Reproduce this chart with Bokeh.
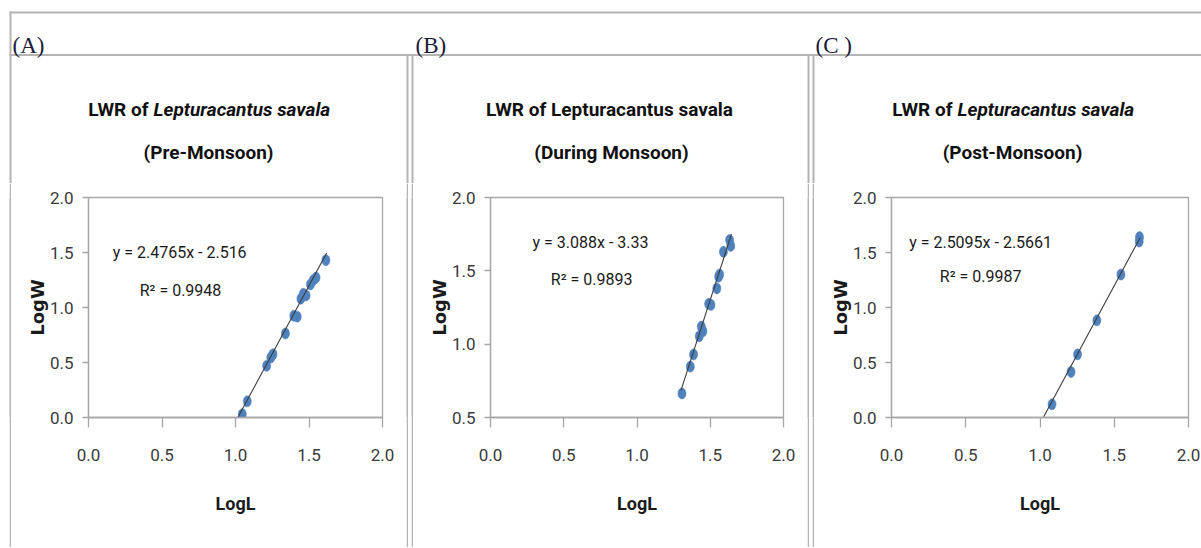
from bokeh.plotting import figure
from bokeh.layouts import row, column, Spacer
from bokeh.models import Range1d, FixedTicker, NumeralTickFormatter, Label
from bokeh.core.properties import value
from bokeh.embed import file_html
from bokeh.resources import INLINE

# ---------------- data ----------------
PANEL_TAGS = ["(A)", "(B)", "(C )"]
SEASONS = ["(Pre-Monsoon)", "(During Monsoon)", "(Post-Monsoon)"]
TITLE_PREFIX = "LWR of"
SPECIES = "Lepturacantus savala"
ITALIC_SPECIES = [True, False, True]

A_LOGL = [1.046, 1.080, 1.212, 1.240, 1.255, 1.340, 1.397, 1.420, 1.445, 1.462, 1.480, 1.510, 1.530, 1.548, 1.615]
A_LOGW = [0.030, 0.147, 0.470, 0.545, 0.575, 0.764, 0.925, 0.917, 1.080, 1.125, 1.110, 1.210, 1.250, 1.272, 1.430]

B_LOGL = [1.307, 1.364, 1.386, 1.425, 1.439, 1.450, 1.489, 1.505, 1.545, 1.557, 1.564, 1.590, 1.632, 1.640]
B_LOGW = [0.664, 0.847, 0.930, 1.054, 1.120, 1.088, 1.275, 1.268, 1.380, 1.460, 1.475, 1.630, 1.710, 1.670]

C_LOGL = [1.081, 1.209, 1.253, 1.383, 1.545, 1.668, 1.670]
C_LOGW = [0.120, 0.414, 0.574, 0.883, 1.300, 1.600, 1.640]

SLOPES = [2.4765, 3.088, 2.5095]
INTERCEPTS = [-2.516, -3.33, -2.5661]
EQ_TEXT = ["y = 2.4765x - 2.516", "y = 3.088x - 3.33", "y = 2.5095x - 2.5661"]
R2_TEXT = ["R\u00b2 = 0.9948", "R\u00b2 = 0.9893", "R\u00b2 = 0.9987"]
TREND_X = [[1.016, 1.62], [1.30, 1.645], [1.025, 1.675]]

X_TICKS = [0.0, 0.5, 1.0, 1.5, 2.0]
Y_TICKS = [[0.0, 0.5, 1.0, 1.5, 2.0], [0.5, 1.0, 1.5, 2.0], [0.0, 0.5, 1.0, 1.5, 2.0]]
Y_RANGES = [(0.0, 2.0), (0.5, 2.0), (0.0, 2.0)]
X_RANGE = (0.0, 2.0)

# ---------------- styling / layout ----------------
SANS = "Roboto"
GRAY = "#a6a6a6"
TABLE = "#b4b4b4"
BLUE = "#4F81BD"
TOTAL_W = 1201
HEAD_H = 183
BODY_H = 364
CHART_W = [395, 394, 387]
MB_LEFT = [77, 77, 77]
MB_RIGHT = [24, 24, 13]
MB_TOP = 14
MB_BOTTOM = 130
EQ_POS = [(0.62, 1.50), (0.683, 1.69), (0.60, 1.595)]
R2_POS = [(0.626, 1.156), (0.69, 1.44), (0.60, 1.28)]

# header layout (page px)
TITLE_JOINT = [148, None, 952]      # x where "LWR of" ends (italic titles)
TITLE_CENTER = [208, 609, 1012]
LINE2_CENTER = [208, 611, 1012]
TAG_X = [12, 415, 815]
VLINES = [(9, 11, 11), (406, 408, 53.5), (411, 413, 53.5), (807, 809, 53.5), (812, 814, 53.5)]

datasets = [(A_LOGL, A_LOGW), (B_LOGL, B_LOGW), (C_LOGL, C_LOGW)]


def bare(width, height, xr, yr, fill="white"):
    f = figure(width=width, height=height, output_backend="svg", toolbar_location=None,
               x_range=Range1d(*xr), y_range=Range1d(*yr), x_axis_type=None, y_axis_type=None,
               min_border=0, min_border_left=0, min_border_right=0,
               min_border_top=0, min_border_bottom=0)
    f.outline_line_color = None
    f.grid.visible = False
    f.background_fill_color = fill
    f.border_fill_color = fill
    return f


# ---------- header (tags, titles, table lines) ----------
head = bare(TOTAL_W, HEAD_H, (0, TOTAL_W), (HEAD_H, 0))
head.quad(left=[9, 9], right=[TOTAL_W, TOTAL_W], top=[11, 53.5], bottom=[13, 55.5],
          fill_color=TABLE, line_color=None)
head.quad(left=[v[0] for v in VLINES], right=[v[1] for v in VLINES],
          top=[v[2] for v in VLINES], bottom=[HEAD_H + 1] * len(VLINES),
          fill_color=TABLE, line_color=None)
head.text(x=TAG_X, y=[45] * 3, text=PANEL_TAGS, text_font=value("Liberation Serif"),
          text_font_size="23px", text_color="#1b1b3a", text_baseline="alphabetic")
for i in range(3):
    if ITALIC_SPECIES[i]:
        j = TITLE_JOINT[i]
        head.text(x=[j], y=[109], text=[TITLE_PREFIX], text_align="right", text_baseline="alphabetic",
                  text_font=value(SANS), text_font_size="19px", text_font_style="bold", text_color="#111111")
        head.text(x=[j + 5], y=[109], text=[SPECIES], text_align="left", text_baseline="alphabetic",
                  text_font=value(SANS), text_font_size="19px", text_font_style="bold italic",
                  text_color="#111111")
    else:
        head.text(x=[TITLE_CENTER[i]], y=[109], text=[TITLE_PREFIX + " " + SPECIES], text_align="center",
                  text_baseline="alphabetic", text_font=value(SANS), text_font_size="19px",
                  text_font_style="bold", text_color="#111111")
    head.text(x=[LINE2_CENTER[i]], y=[152], text=[SEASONS[i]], text_align="center",
              text_baseline="alphabetic", text_font=value(SANS), text_font_size="19px",
              text_font_style="bold", text_color="#111111")


# ---------- vertical border strips (whole canvas filled) ----------
def strip(width):
    return bare(width, BODY_H, (0, 1), (0, 1), fill=TABLE)


# ---------- charts ----------
def make_chart(i):
    p = figure(width=CHART_W[i], height=BODY_H, output_backend="svg", toolbar_location=None,
               x_range=Range1d(*X_RANGE), y_range=Range1d(*Y_RANGES[i]),
               min_border_left=MB_LEFT[i], min_border_right=MB_RIGHT[i],
               min_border_top=MB_TOP, min_border_bottom=MB_BOTTOM)
    p.background_fill_color = "white"
    p.border_fill_color = "white"
    p.outline_line_color = GRAY
    p.outline_line_width = 1.3
    p.xgrid.visible = False
    p.ygrid.visible = False

    for ax in (p.xaxis[0], p.yaxis[0]):
        ax.axis_line_color = GRAY
        ax.axis_line_width = 1.3
        ax.major_tick_line_color = GRAY
        ax.major_tick_line_width = 1.3
        ax.minor_tick_line_color = None
        ax.major_tick_in = 0
        ax.formatter = NumeralTickFormatter(format="0.0")
        ax.major_label_text_font = SANS
        ax.major_label_text_font_size = "17px"
        ax.major_label_text_color = "#3a3a3a"
        ax.axis_label_text_color = "#1a1a1a"
        ax.axis_label_text_font_style = "bold"

    p.xaxis.ticker = FixedTicker(ticks=X_TICKS, minor_ticks=[])
    p.yaxis.ticker = FixedTicker(ticks=Y_TICKS[i], minor_ticks=[])
    p.xaxis.major_tick_out = 10
    p.yaxis.major_tick_out = 6
    p.xaxis.major_label_standoff = 21
    p.yaxis.major_label_standoff = 9
    p.xaxis.axis_label = "LogL"
    p.xaxis.axis_label_text_font = SANS
    p.xaxis.axis_label_text_font_size = "18px"
    p.xaxis.axis_label_standoff = 29
    p.yaxis.axis_label = "LogW"
    p.yaxis.axis_label_text_font = "DejaVu Sans"
    p.yaxis.axis_label_text_font_size = "18px"
    p.yaxis.axis_label_standoff = -1

    xs, ys = datasets[i]
    p.ellipse(x=xs, y=ys, width=8, height=11, width_units="screen", height_units="screen",
              fill_color=BLUE, line_color=BLUE, line_alpha=0.6)
    tx = TREND_X[i]
    ty = [SLOPES[i] * v + INTERCEPTS[i] for v in tx]
    p.line(tx, ty, line_color="#3c3c3c", line_width=1.1)

    for (lx, ly), txt in ((EQ_POS[i], EQ_TEXT[i]), (R2_POS[i], R2_TEXT[i])):
        p.add_layout(Label(x=lx, y=ly, text=txt, text_align="center",
                           text_baseline="alphabetic", text_font=SANS, text_font_size="16px",
                           text_color="#1a1a1a"))
    return p


charts = [make_chart(i) for i in range(3)]
body = row(Spacer(width=9, height=BODY_H), strip(2), charts[0], strip(2),
           Spacer(width=3, height=BODY_H), strip(2), charts[1], strip(2),
           Spacer(width=3, height=BODY_H), strip(2), charts[2])
layout = column(head, body)
open("out.html", "w").write(file_html(layout, INLINE))
